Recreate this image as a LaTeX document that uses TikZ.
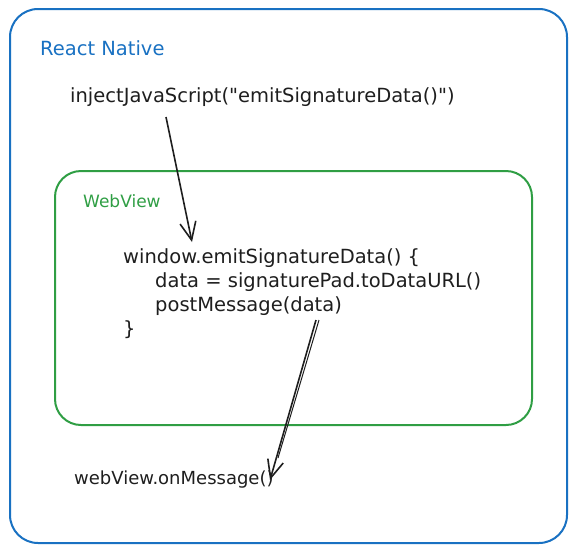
\documentclass[tikz,border=0pt]{standalone}
\usepackage{fontspec}
\setmainfont{DejaVu Sans}[Ligatures=TeXOff]
\usetikzlibrary{arrows.meta}
\definecolor{rnblue}{HTML}{1971C2}
\definecolor{wvgreen}{HTML}{2F9E44}
\definecolor{ink}{HTML}{1E1E1E}
\tikzset{
  txt/.style={anchor=west, inner sep=0pt, text=ink, font=\fontsize{19.5}{22}\selectfont},
  lbl/.style={anchor=west, inner sep=0pt, font=\fontsize{17}{20}\selectfont},
  frame/.style={line width=2pt, rounded corners=28pt},
  conn/.style={ink, line width=1.6pt, -{Straight Barb[length=18pt,width=16pt]}},
}
\begin{document}
\begin{tikzpicture}[x=1pt,y=-1pt]
\useasboundingbox (0,0) rectangle (575,552);
\draw[frame, rnblue] (10,9) rectangle (567,543);
\draw[frame, wvgreen, rounded corners=26pt] (55,171) rectangle (532,425);
\node[lbl, text=rnblue, font=\fontsize{19.5}{22}\selectfont] (rn) at (40,48) {React Native};
\node[txt] (inj) at (70,97) {injectJavaScript("emitSignatureData()")};
\node[lbl, text=wvgreen] (wv) at (83,201) {WebView};
\node[txt] (l1) at (123,258) {window.emitSignatureData() \{};
\node[txt] (l2) at (155,282) {data = signaturePad.toDataURL()};
\node[txt] (l3) at (155,306) {postMessage(data)};
\node[txt] (l4) at (123,330) {\}};
\node[txt, font=\fontsize{18}{22}\selectfont] (om) at (74,480) {webView.onMessage()};
\coordinate (a1s) at (166,117);
\coordinate (a1e) at (192,242);
\coordinate (a2s) at (316,320);
\coordinate (a2e) at (270,480);
\coordinate (b2s) at (319,320);
\coordinate (b2e) at (278,458);
\draw[conn] (a1s) -- (a1e);
\draw[conn] (a2s) -- (a2e);
\draw[ink, line width=1pt] (b2s) -- (b2e);
\end{tikzpicture}
\end{document}
